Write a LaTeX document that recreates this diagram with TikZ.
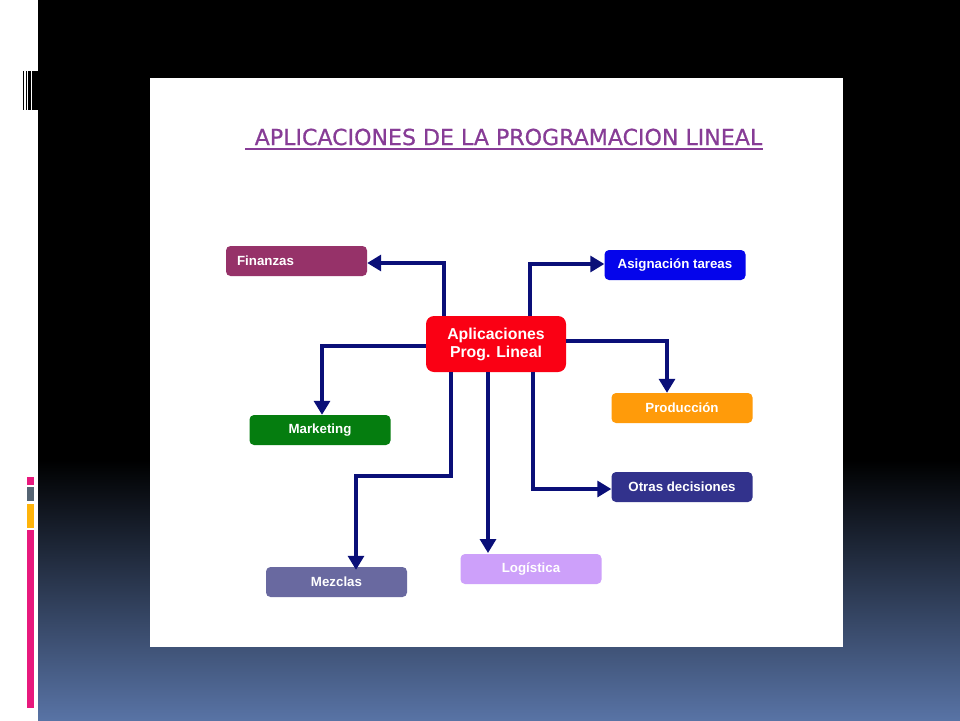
\documentclass[tikz,border=0pt]{standalone}
\usepackage{fontspec}
\setmainfont{Liberation Sans}
\newfontfamily\titlefont[FakeBold=0.6]{DejaVu Sans}
\usetikzlibrary{arrows.meta}
\definecolor{navyline}{RGB}{10,15,120}
\definecolor{titlepurple}{RGB}{135,60,150}
\definecolor{cfin}{RGB}{150,50,105}
\definecolor{casi}{RGB}{5,5,235}
\definecolor{cpro}{RGB}{255,155,10}
\definecolor{cmar}{RGB}{5,125,15}
\definecolor{cotr}{RGB}{50,50,140}
\definecolor{clog}{RGB}{205,160,250}
\definecolor{cmez}{RGB}{105,105,160}
\definecolor{chub}{RGB}{250,0,20}
\definecolor{bbot}{RGB}{88,115,165}
\definecolor{bpink}{RGB}{232,25,125}
\definecolor{bgrey}{RGB}{85,100,115}
\definecolor{bamber}{RGB}{255,180,10}
\tikzset{
  appbox/.style={rounded corners=4.5pt,minimum width=141pt,minimum height=30pt,inner sep=0pt,
    text=white,font=\fontsize{13.3}{15}\selectfont\bfseries,align=center},
  hubbox/.style={appbox,fill=chub,rounded corners=8pt,minimum width=140pt,minimum height=56pt,
    font=\fontsize{15.8}{18}\selectfont\bfseries},
  link/.style={draw=navyline,line width=3.2pt,-{Triangle[length=14pt,width=16pt]}},
  deco/.style={fill=black,draw=none}
}
\begin{document}
\begin{tikzpicture}[x=1pt,y=-1pt]
\useasboundingbox (0,0) rectangle (960,720);
\fill[white] (0,0) rectangle (960,720);
\fill[black] (38,0) rectangle (960,460);
\shade[top color=black,bottom color=bbot,draw=none] (38,460) rectangle (960,720);
% decorative bars
\fill[deco] (23,71) rectangle (24.4,110);
\fill[deco] (26.3,71) rectangle (27,110);
\fill[deco] (28,71) rectangle (31,110);
\fill[deco] (32,71) rectangle (38,110);
\fill[bpink] (27,477) rectangle (34,485);
\fill[bgrey] (27,487) rectangle (34,501);
\fill[bamber] (27,504) rectangle (34,528);
\fill[bpink] (27,530) rectangle (34,708);
% slide image
\fill[white] (150,78) rectangle (843,647);
\node[text=titlepurple,font=\titlefont\fontsize{22.1}{24}\selectfont,inner sep=0pt] (title) at (508.5,137) {APLICACIONES DE LA PROGRAMACION LINEAL};
\coordinate (ula) at (245,149);
\coordinate (ulb) at (763,149);
\draw[titlepurple,line width=2pt] (ula) -- (ulb);
% nodes
\node[hubbox] (hub) at (496,344) {Aplicaciones\\Prog. Lineal};
\node[appbox,fill=cfin] (fin) at (296.5,261) {\hspace*{-62pt}Finanzas};
\node[appbox,fill=casi] (asi) at (675,265) {Asignación tareas};
\node[appbox,fill=cpro] (pro) at (682,408) {Producción};
\node[appbox,fill=cmar] (mar) at (320,430) {Marketing};
\node[appbox,fill=cotr] (otr) at (682,487) {Otras decisiones};
\node[appbox,fill=clog] (log) at (531,569) {Logística};
\node[appbox,fill=cmez] (mez) at (336.5,582) {Mezclas};
% connector waypoints
\coordinate (wfin) at (444,263);
\coordinate (wasi) at (530,264);
\coordinate (wpro) at (667,341);
\coordinate (wmar) at (322,346);
\coordinate (wmeza) at (451,476);
\coordinate (wmezb) at (356,476);
\coordinate (wlog) at (488,553);
\coordinate (wotr) at (533,489);
% connectors
\draw[link] (wfin |- hub.north) -- (wfin) -- (wfin -| fin.east);
\draw[link] (wasi |- hub.north) -- (wasi) -- (wasi -| asi.west);
\draw[link] (wpro -| hub.east) -- (wpro) -- (wpro |- pro.north);
\draw[link] (wmar -| hub.west) -- (wmar) -- (wmar |- mar.north);
\draw[link] (wmeza |- hub.south) -- (wmeza) -- (wmezb) -- ([yshift=-3pt]wmezb |- mez.north);
\draw[link] (wlog |- hub.south) -- (wlog);
\draw[link] (wotr |- hub.south) -- (wotr) -- (wotr -| otr.west);
\end{tikzpicture}
\end{document}
